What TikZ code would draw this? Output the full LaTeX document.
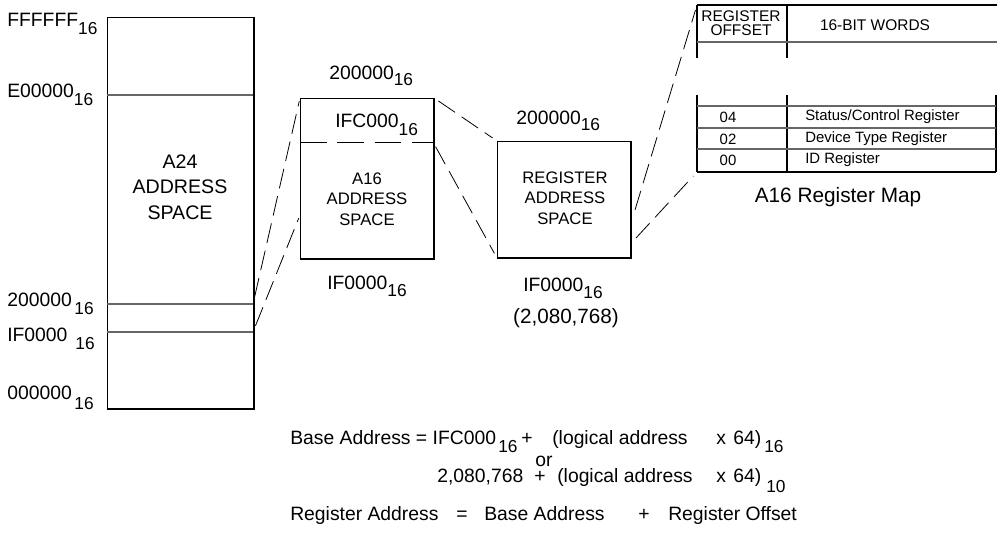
\documentclass[tikz,border=0pt]{standalone}
\usepackage{fontspec}
\setmainfont{Liberation Sans}
\newcommand\subsc[2][6pt]{\raisebox{-#1}{\fontsize{13}{13}\selectfont #2}}
\begin{document}
\begin{tikzpicture}[x=0.75pt,y=-0.75pt,
  lbl/.style={inner sep=0, anchor=base west, font=\fontsize{14.5}{17}\selectfont},
  sublbl/.style={inner sep=0, anchor=base west, font=\fontsize{13}{13}\selectfont},
  boxtxt/.style={align=center, inner sep=0, font=\fontsize{12.5}{15.4}\selectfont},
  tbl/.style={inner sep=0, font=\fontsize{11.2}{10}\selectfont},
  hdr/.style={inner sep=0, font=\fontsize{11.6}{10.6}\selectfont},
  box/.style={draw, line width=0.8pt, anchor=north west, inner sep=0},
  heavy/.style={line width=1.6pt},
  divln/.style={draw=black!60, line width=0.8pt},
  dashln/.style={dash pattern=on 15pt off 6pt, line width=0.6pt}]
\useasboundingbox (0,0) rectangle (997,538);

% ---------- A24 address space ----------
\node (a24) [box, minimum width=109.5pt, minimum height=293.25pt] at (107,17) {};
\draw[heavy] (a24.north east) -- (a24.south east) -- (a24.south west);
\coordinate (e0w) at (107,95);   \coordinate (e0e) at (253,95);
\coordinate (l2w) at (107,304);  \coordinate (l2e) at (253,304);
\coordinate (l1w) at (107,332);  \coordinate (l1e) at (253,332);
\draw[divln] (e0w) -- (e0e);
\draw[divln] (l2w) -- (l2e);
\draw[divln] (l1w) -- (l1e);
\node (a24t) [align=center, inner sep=0, font=\fontsize{14.7}{19}\selectfont] at (180,187) {A24\\ADDRESS\\SPACE};

\node (lf) [lbl] at (7,27) {FFFFFF\subsc{16}};
\node (le) [lbl] at (7,98) {E00000\subsc{16}};
\node (l2) [lbl] at (7,307) {200000\hspace{2pt}\subsc{16}};
\node (l1) [lbl] at (7,342) {IF0000\hspace{6pt}\subsc{16}};
\node (l0) [lbl] at (7,400) {000000\hspace{2pt}\subsc[7pt]{16}};

% ---------- A16 address space ----------
\node (a16) [box, minimum width=99.75pt, minimum height=120pt] at (300,98) {};
\draw[heavy] (a16.north east) -- (a16.south east) -- (a16.south west);
\coordinate (ifcw) at (300,142); \coordinate (ifce) at (433,142);
\draw[dashln, dash pattern=on 20pt off 8pt] (ifcw) -- (ifce);
\node (a16t) [boxtxt] at (367,199) {A16\\ADDRESS\\SPACE};
\node (a16top) [lbl] at (329,80) {200000\subsc[4pt]{16}};
\node (ifc) [lbl] at (335,128) {IFC000\subsc[6pt]{16}};
\node (a16bot) [lbl] at (327,290) {IF0000\subsc[5pt]{16}};
\coordinate (a16l) at (300,215);

% ---------- Register address space ----------
\node (reg) [box, minimum width=99.75pt, minimum height=87pt] at (497,141) {};
\draw[heavy] (reg.north east) -- (reg.south east) -- (reg.south west);
\node (regt) [boxtxt] at (565,198) {REGISTER\\ADDRESS\\SPACE};
\node (regtop) [lbl] at (516,125) {200000\subsc[4pt]{16}};
\node (regbot) [lbl] at (523,292) {IF0000\subsc[5pt]{16}};
\node (regdec) [inner sep=0, anchor=base, font=\fontsize{15.5}{17}\selectfont] at (566,324) {(2,080,768)};
\coordinate (regr1) at (635,210);
\coordinate (regr2) at (636,238);

% ---------- dashed connectors ----------
\draw[dashln, shorten <=5pt, shorten >=2.5pt] (l2e) -- (a16.north west);
\draw[dashln, shorten <=5pt, shorten >=2.5pt] (l1e) -- (a16l);
\draw[dashln, shorten <=4pt, shorten >=4pt] (a16.north east) -- (reg.north west);
\draw[dashln, shorten <=4pt, shorten >=4pt] (ifce) -- (reg.south west);

% ---------- register map table ----------
\coordinate (tTL) at (697,5);   \coordinate (tTR) at (997,5);
\coordinate (tHL) at (697,42);  \coordinate (tHR) at (997,42);
\coordinate (tDT) at (787,5);   \coordinate (tDM) at (787,58);
\coordinate (tLM) at (697,58);
\coordinate (tL2) at (697,95);  \coordinate (tD2) at (787,95);  \coordinate (tR2) at (996,95);
\coordinate (tr1L) at (697,106); \coordinate (tr1R) at (996,106);
\coordinate (tr2L) at (697,128); \coordinate (tr2R) at (996,128);
\coordinate (tr3L) at (697,149); \coordinate (tr3R) at (996,149);
\coordinate (tBL) at (697,172); \coordinate (tBD) at (787,172); \coordinate (tBR) at (996,172);
\draw[line width=1.2pt] (tTL) -- (tTR);
\draw[line width=0.8pt] (tTL) -- (tLM);
\draw[line width=0.8pt] (tDT) -- (tDM);
\draw[divln] (tHL) -- (tHR);
\draw[line width=0.8pt] (tL2) -- (tBL);
\draw[line width=0.8pt] (tD2) -- (tBD);
\draw[line width=0.8pt] (tR2) -- (tBR);
\draw[divln] (tr1L) -- (tr1R);
\draw[divln] (tr2L) -- (tr2R);
\draw[divln] (tr3L) -- (tr3R);
\draw[line width=1.2pt] (tBL) -- (tBR);
\node (hoff) [hdr, align=center] at (741,23) {REGISTER\\OFFSET};
\node (hwrd) [hdr] at (875,25) {16-BIT WORDS};
\node (o4) [tbl] at (728,117) {04};
\node (o2) [tbl] at (728,139) {02};
\node (o0) [tbl] at (728,160) {00};
\node (w4) [tbl, anchor=west] at (805,117) {Status/Control Register};
\node (w2) [tbl, anchor=west] at (805,139) {Device Type Register};
\node (w0) [tbl, anchor=west] at (805,160) {ID Register};
\node (map) [inner sep=0, font=\fontsize{15.6}{17}\selectfont] at (838,197) {A16 Register Map};

\draw[dashln, shorten >=4pt] (regr1) -- (tTL);
\draw[dashln, shorten >=4pt] (regr2) -- (tBL);

% ---------- formulas ----------
\node (f1a) [lbl] at (290,445) {Base Address = IFC000};
\node (f1s) [sublbl] at (498,453) {16};
\node (f1p) [lbl] at (521,445) {+};
\node (f1b) [lbl] at (552,445) {(logical address};
\node (f1x) [lbl] at (716,445) {x};
\node (f1c) [lbl] at (733,445) {64)};
\node (f1t) [sublbl] at (764,453) {16};
\node (for) [lbl] at (535,466) {or};
\node (f2a) [lbl] at (437,483) {2,080,768};
\node (f2p) [lbl] at (534,483) {+};
\node (f2b) [lbl] at (557,483) {(logical address};
\node (f2x) [lbl] at (716,483) {x};
\node (f2c) [lbl] at (733,483) {64)};
\node (f2t) [sublbl] at (766,493) {10};
\node (f3a) [lbl] at (290,520) {Register Address};
\node (f3e) [lbl] at (456,520) {=};
\node (f3b) [lbl] at (484,520) {Base Address};
\node (f3p) [lbl] at (638,520) {+};
\node (f3c) [lbl] at (668,520) {Register Offset};
\end{tikzpicture}
\end{document}
